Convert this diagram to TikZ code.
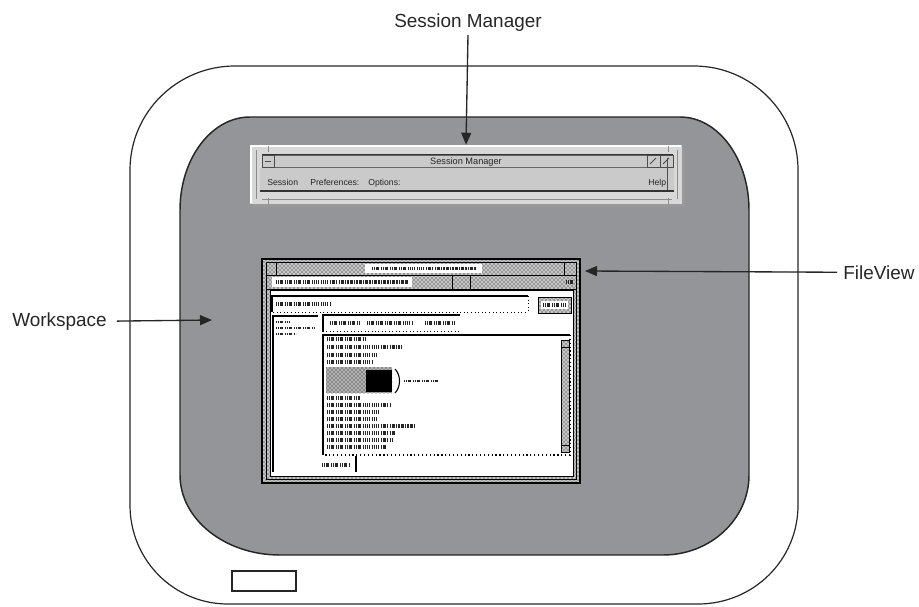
\documentclass[tikz,border=0pt]{standalone}
\usepackage{fontspec}
\setmainfont{Liberation Sans}
\usetikzlibrary{arrows.meta,patterns}
\definecolor{wsgray}{RGB}{148,149,153}
\definecolor{framegray}{RGB}{216,216,216}
\definecolor{bargray}{RGB}{202,202,202}
\begin{document}
\begin{tikzpicture}[x=0.75pt,y=-0.75pt,
  lbl/.style={font=\fontsize{14.2pt}{17pt}\selectfont, inner sep=0pt, text=black!85},
  tiny/.style={font=\fontsize{6.5pt}{7pt}\selectfont, inner sep=0pt, text=black!85},
  arr/.style={line width=1pt, draw=black!85, fill=black!85, -{Triangle[length=9pt,width=7.5pt]}},
  glyphs/.style={line width=#1, draw=black!85, dash pattern=on 1.1pt off .5pt on .6pt off .7pt on 1.4pt off .5pt on .8pt off 1.1pt},
  glyphs/.default=2.6pt,
  dither/.style={pattern=crosshatch dots, pattern color=black},
  winbox/.style={minimum width=#1, inner sep=0pt, draw=none}
]
\useasboundingbox (0,0) rectangle (919,606);

% outer device outline
\draw[line width=0.9pt, draw=black!85] (235,66) -- (694,66)
  .. controls (751.4,66) and (798,112.6) .. (798,170) -- (798,505)
  .. controls (798,560.2) and (753.2,604) .. (698,604) -- (228,604)
  .. controls (173.9,604) and (130,560.2) .. (130,505) -- (130,170)
  .. controls (130,112.6) and (177,66) .. (235,66) -- cycle;

% workspace (grey screen)
\draw[fill=wsgray, line width=1.1pt, draw=black!85] (250,117) -- (680,117)
  .. controls (718.1,117) and (749,158.7) .. (749,210) -- (749,475)
  .. controls (749,519.2) and (710.5,555) .. (663,555) -- (280,555)
  .. controls (224.8,555) and (180,519.2) .. (180,475) -- (180,210)
  .. controls (180,158.7) and (211.4,117) .. (250,117) -- cycle;

% small rectangle
\draw[line width=1pt, draw=black!85] (232,571) rectangle (296,591);

% ---------------- Session Manager window ----------------
\node[winbox=324pt, minimum height=44.25pt] (smwin) at (466,174.5) {};
\fill[black!40] (253,148) rectangle (685,207);
\fill[framegray] (250,145) rectangle (682,204);
\draw[white, line width=1.2pt] (251,203) -- (251,146) -- (681,146);
\draw[black!45, line width=.6pt] (256,150) -- (256,199) (262,199) -- (672,199) (677,150) -- (677,199);
\draw[black!45, line width=.6pt] (268,146) -- (268,152) (668,146) -- (668,152) (268,198) -- (268,204) (668,198) -- (668,204);
% title bar
\fill[bargray] (262,155) rectangle (673,167);
\draw[black!80, line width=1pt] (262,154.5) -- (673,154.5);
\draw[black!60, line width=.5pt] (262,155) rectangle (673,167);
\draw[black!70, line width=.5pt] (262,155) rectangle (274,167) (265,161) -- (271,161);
\draw[black!70, line width=.5pt] (647,155) rectangle (660,167) (660,155) rectangle (673,167);
\draw[black!70, line width=.6pt] (650,164) -- (656,158) (663,164) -- (669,158);
\node[tiny, font=\fontsize{6.9pt}{7pt}\selectfont, anchor=base] (smtitle) at (466,164) {Session Manager};
% menu bar
\fill[bargray] (260,168) rectangle (674,191);
\draw[black!80, line width=1.4pt] (260,191) -- (674,191);
\draw[black!70, line width=.5pt] (667,158) -- (667,190);
\node[tiny, anchor=base west] (m1) at (267,185) {Session};
\node[tiny, anchor=base west] (m2) at (310,185) {Preferences:};
\node[tiny, anchor=base west] (m3) at (368,185) {Options:};
\node[tiny, anchor=base west] (m4) at (648,185) {Help};

% ---------------- FileView window ----------------
\node[winbox=238.5pt, minimum height=168pt] (fvwin) at (421,371) {};
\fill[white] (262,259) rectangle (580,483);
\fill[black!22, even odd rule] (262,259) rectangle (580,483) (270,290) rectangle (573,476);
\fill[dither, even odd rule] (262,259) rectangle (580,483) (270,290) rectangle (573,476);
\draw[black, line width=.8pt] (262,259) rectangle (580,483);
\draw[black, line width=.7pt] (266,262) -- (576,262) (266,275) -- (576,275) (266,289) -- (576,289);
\draw[black, line width=.7pt] (270,290) rectangle (573,476);
\draw[black, line width=.7pt] (266,262) -- (266,479) -- (576,479) -- (576,262);
\draw[black, line width=.6pt] (276,262) -- (276,275) (564,262) -- (564,275);
% title text & menu text
\fill[white] (365,264) rectangle (482,273);
\draw[glyphs=2.4pt] (372,268.5) -- (476,268.5);
\fill[white] (272,277) rectangle (412,287);
\draw[glyphs=2.4pt] (276,282) -- (408,282);
\draw[black, line width=.6pt] (452,276) -- (452,289) (470,276) -- (470,289);
\draw[glyphs=2.4pt] (566,282) -- (574,282);
% text field
\draw[black, line width=.8pt] (272,312) -- (272,296) -- (528,296);
\draw[black, line width=.7pt, dotted] (528,296) -- (528,312) -- (272,312);
\draw[glyphs=2.6pt] (276,304) -- (330,304);
% button
\fill[black!22] (538,297) rectangle (571,313);
\fill[dither] (538,297) rectangle (571,313);
\draw[black, line width=.6pt] (538,297) rectangle (571,313);
\fill[white] (541,301) rectangle (568,309);
\draw[glyphs=2.4pt] (543,305) -- (566,305);
% left pane
\draw[black, line width=.8pt] (273,472) -- (273,316) -- (318,316);
\draw[glyphs=2pt] (276,322) -- (290,322);
\draw[glyphs=2pt] (276,328) -- (314,328);
\draw[glyphs=2pt] (276,334) -- (296,334);
% header
\draw[black, line width=.8pt] (323,332) -- (323,315) -- (460,315);
\draw[black, line width=.6pt, dotted] (323,331) -- (460,331);
\draw[glyphs=2.6pt] (330,323) -- (360,323) (367,323) -- (413,323) (425,323) -- (455,323);
% list box
\draw[black, line width=.9pt] (323,455) -- (323,335) -- (570,335);
\draw[black, line width=.9pt, dotted] (570,335) -- (570,455) -- (323,455);
\fill[black!22] (561,340) rectangle (569,452);
\fill[dither] (561,340) rectangle (569,452);
\draw[black, line width=.5pt] (561,340) rectangle (569,452) (561,347) -- (569,347) (561,445) -- (569,445);
\draw[glyphs] (327,339) -- (365,339);
\draw[glyphs] (327,347) -- (402,347);
\draw[glyphs] (327,355) -- (378,355);
\draw[glyphs] (327,362) -- (372,362);
\fill[black!30] (326,367) rectangle (392,393);
\fill[dither] (326,367) rectangle (392,393);
\fill[black] (366,370) rectangle (392,392);
\draw[black, line width=.8pt] (395,369) .. controls (401,375) and (401,387) .. (395,393);
\draw[glyphs=2pt] (404,381) -- (438,381);
\draw[glyphs] (327,398) -- (360,398);
\draw[glyphs] (327,405) -- (391,405);
\draw[glyphs] (327,412) -- (380,412);
\draw[glyphs] (327,419) -- (376,419);
\draw[glyphs] (327,426) -- (415,426);
\draw[glyphs] (327,433) -- (395,433);
\draw[glyphs] (327,440) -- (392,440);
\draw[glyphs] (327,447) -- (386,447);
% filter
\draw[glyphs=2.4pt] (322,465) -- (350,465);
\draw[black, line width=.8pt] (356,472) -- (356,456);

% ---------------- labels and arrows ----------------
\node[lbl, anchor=base] (smlabel) at (468,28) {Session Manager};
\node[lbl, anchor=base west] (wslabel) at (12,326) {Workspace};
\node[lbl, anchor=base west] (fvlabel) at (843,279) {FileView};
\coordinate (wstip) at (212,320);
\coordinate (fvtip) at (585,271);

\draw[arr] ([yshift=-2pt]smlabel.south) -- (smwin.north);
\draw[arr] ([xshift=7.5pt]wslabel.east) -- (wstip);
\draw[arr] ([xshift=-4.5pt]fvlabel.west) -- (fvtip);
\end{tikzpicture}
\end{document}
